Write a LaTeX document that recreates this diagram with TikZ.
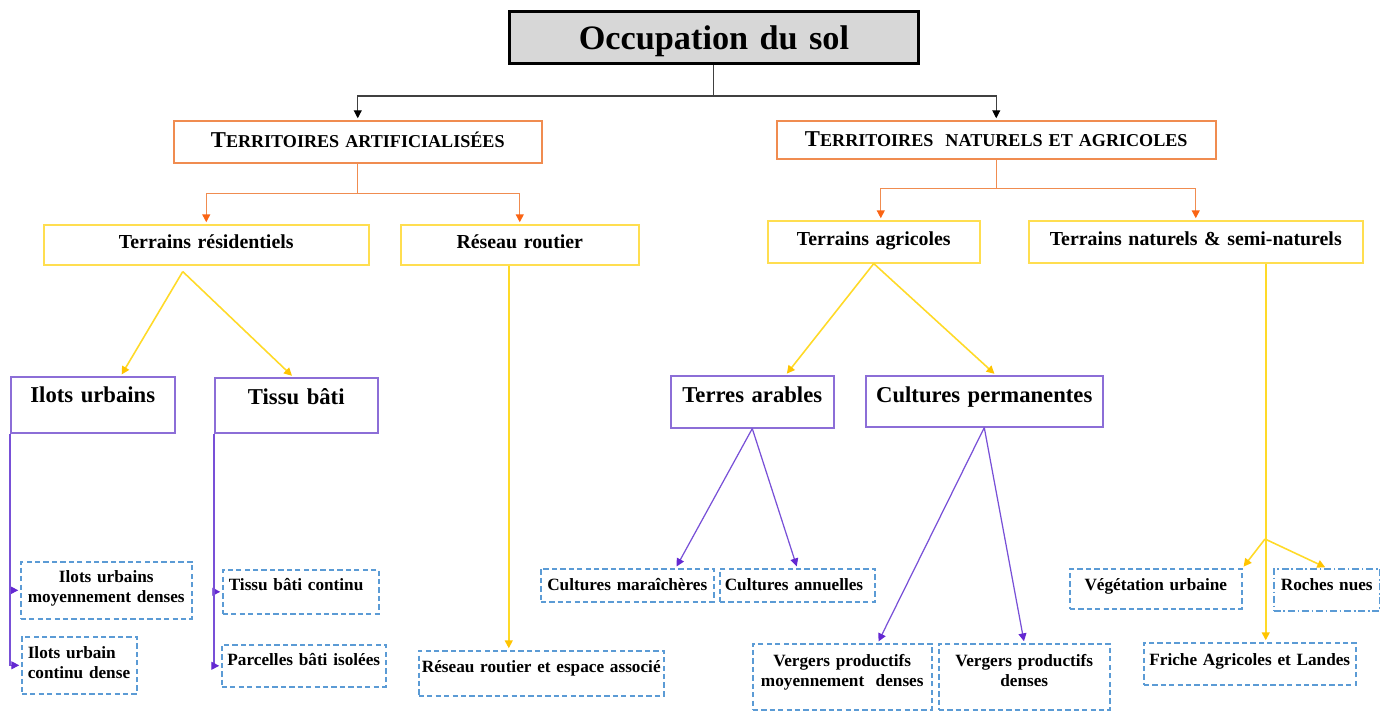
\documentclass[tikz,border=0pt]{standalone}
\usepackage{fontspec}
\setmainfont{Liberation Serif}
\usetikzlibrary{arrows.meta}

\definecolor{grisfond}{RGB}{215,215,215}
\definecolor{orangecadre}{RGB}{240,140,80}
\definecolor{orangepointe}{RGB}{250,100,20}
\definecolor{jaunecadre}{RGB}{255,222,80}
\definecolor{jaunetrait}{RGB}{255,218,40}
\definecolor{jaunepointe}{RGB}{255,196,0}
\definecolor{violetcadre}{RGB}{140,110,215}
\definecolor{violettrait}{RGB}{120,80,215}
\definecolor{violetpointe}{RGB}{100,40,210}
\definecolor{bleucadre}{RGB}{91,155,213}

\newcommand{\grand}[1]{{\fontsize{12.9}{15}\selectfont #1}}

\begin{document}
\begin{tikzpicture}[x=0.02cm, y=-0.02cm, shorten >=1pt,
	boite/.style={anchor=north west, inner sep=0pt, align=center},
	titre/.style={boite, draw=black, line width=1.7pt, fill=grisfond, font=\bfseries\fontsize{19.5}{22}\selectfont},
	domaine/.style={boite, draw=orangecadre, line width=0.9pt, font=\bfseries\fontsize{10.3}{12}\selectfont},
	terrain/.style={boite, draw=jaunecadre, line width=0.9pt, font=\bfseries\fontsize{11.3}{13}\selectfont},
	classe/.style={boite, draw=violetcadre, line width=0.9pt, font=\bfseries\fontsize{12.9}{15}\selectfont},
	feuille/.style={boite, draw=bleucadre, line width=0.9pt, dash pattern=on 3pt off 1.8pt, font=\bfseries\fontsize{9.8}{11.2}\selectfont},
	fleche noire/.style={draw=black!75, line width=0.6pt, -{Triangle[length=4.5pt,width=4.5pt,color=black]}},
	fleche orange/.style={draw=orangecadre, line width=0.8pt, -{Triangle[length=4.5pt,width=4.5pt,color=orangepointe]}},
	fleche jaune/.style={draw=jaunetrait, line width=0.9pt, -{Triangle[length=4.5pt,width=4.5pt,color=jaunepointe]}},
	fleche violette/.style={draw=violettrait, line width=0.7pt, -{Triangle[length=4.5pt,width=4.5pt,color=violetpointe]}}]
	\useasboundingbox (0,0) rectangle (1380,711);

	% niveaux 0 et 1
	\node (titre) at (508,10)	[titre, text width=8.18cm, text height=0.76cm, text depth=0.28cm]	{Occupation du sol};
	\node (TA) at (173,120)	[domaine, text width=7.36cm, text height=0.54cm, text depth=0.30cm]	{\grand{T}ERRITOIRES ARTIFICIALISÉES};
	\node (TNA) at (776,120)	[domaine, text width=8.78cm, text height=0.52cm, text depth=0.24cm]	{\grand{T}ERRITOIRES\ \ NATURELS ET AGRICOLES};

	% niveau 2
	\node (TR) at (43,224)	[terrain, text width=6.50cm, text height=0.48cm, text depth=0.32cm]	{Terrains résidentiels};
	\node (RR) at (400,224)	[terrain, text width=4.76cm, text height=0.48cm, text depth=0.32cm]	{Réseau routier};
	\node (TAg) at (767,220)	[terrain, text width=4.24cm, text height=0.50cm, text depth=0.34cm]	{Terrains agricoles};
	\node (TN) at (1028,220)	[terrain, text width=6.68cm, text height=0.50cm, text depth=0.34cm]	{Terrains naturels \& semi-naturels};

	% niveau 3
	\node (IU) at (10,376)	[classe, text width=3.28cm, text height=0.52cm, text depth=0.60cm]	{Ilots urbains};
	\node (TB) at (214,377)	[classe, text width=3.26cm, text height=0.54cm, text depth=0.56cm]	{Tissu bâti};
	\node (TAr) at (670,375)	[classe, text width=3.26cm, text height=0.54cm, text depth=0.50cm]	{Terres arables};
	\node (CP) at (865,375)	[classe, text width=4.74cm, text height=0.54cm, text depth=0.48cm]	{Cultures permanentes};

	% feuilles
	\node (IUm) at (20,561)	[feuille, text width=3.42cm, text height=0.42cm, text depth=0.72cm]	{Ilots urbains\\moyennement denses};
	\node (IUc) at (21,636)	[feuille, align=left, inner xsep=0.12cm, text width=2.06cm, text height=0.44cm, text depth=0.70cm]	{Ilots urbain\\continu dense};
	\node (TBc) at (222,569)	[feuille, align=left, inner xsep=0.12cm, text width=2.88cm, text height=0.42cm, text depth=0.46cm]	{Tissu bâti continu};
	\node (TBp) at (221,644)	[feuille, text width=3.28cm, text height=0.42cm, text depth=0.42cm]	{Parcelles bâti isolées};
	\node (RRe) at (418,650)	[feuille, text width=4.90cm, text height=0.44cm, text depth=0.46cm]	{Réseau routier et espace associé};
	\node (CM) at (540,568)	[feuille, text width=3.46cm, text height=0.44cm, text depth=0.22cm]	{Cultures maraîchères};
	\node (CA) at (719,568)	[feuille, align=left, inner xsep=0.10cm, text width=2.90cm, text height=0.44cm, text depth=0.22cm]	{Cultures annuelles};
	\node (VPm) at (752,643)	[feuille, text width=3.58cm, text height=0.46cm, text depth=0.86cm]	{Vergers productifs\\moyennement\ \ denses};
	\node (VPd) at (938,643)	[feuille, text width=3.42cm, text height=0.46cm, text depth=0.86cm]	{Vergers productifs\\denses};
	\node (VU) at (1069,568)	[feuille, text width=3.44cm, text height=0.44cm, text depth=0.36cm]	{Végétation urbaine};
	\node (RN) at (1273,568)	[feuille, dash pattern=on 4pt off 1.5pt on 1pt off 1.5pt, text width=2.12cm, text height=0.44cm, text depth=0.40cm]	{Roches nues};
	\node (FAL) at (1143,642)	[feuille, text width=4.24cm, text height=0.46cm, text depth=0.38cm]	{Friche Agricoles et Landes};

	% liaisons
	\coordinate (j0) at ([yshift=-0.62cm]titre.south);
	\coordinate (j1) at ([yshift=-0.60cm]TA.south);
	\coordinate (j2) at ([yshift=-0.58cm]TNA.south);
	\coordinate (aTR) at ([xshift=-0.47cm, yshift=-0.12cm]TR.south);
	\coordinate (jTN) at (1265,539);

	\draw[fleche noire] (titre.south) -- (j0) -| (TA.north);
	\draw[fleche noire] (titre.south) -- (j0) -| (TNA.north);

	\draw[fleche orange] (TA.south) -- (j1) -| (TR.north);
	\draw[fleche orange] (TA.south) -- (j1) -| (RR.north);
	\draw[fleche orange] (TNA.south) -- (j2) -| ([xshift=0.14cm]TAg.north);
	\draw[fleche orange] (TNA.south) -- (j2) -| (TN.north);

	\draw[fleche jaune] (aTR) -- ([xshift=0.56cm]IU.north);
	\draw[fleche jaune] (aTR) -- ([xshift=-0.06cm]TB.north);
	\draw[fleche jaune] ([xshift=-0.22cm]RR.south) -- ([xshift=-0.22cm]RR.south |- RRe.north);
	\draw[fleche jaune] (TAg.south) -- ([xshift=0.67cm]TAr.north);
	\draw[fleche jaune] (TAg.south) -- ([xshift=0.23cm]CP.north);
	\draw[fleche jaune] ([xshift=1.4cm]TN.south) -- ([xshift=1.4cm]TN.south |- FAL.north);
	\draw[fleche jaune] (jTN) -- (VU.north east);
	\draw[fleche jaune] (jTN) -- (RN.north);

	\draw[fleche violette] (IU.south west) |- (IUm.west);
	\draw[fleche violette] (IU.south west) |- (IUc.west);
	\draw[fleche violette] (TB.south west) |- (TBc.west);
	\draw[fleche violette] (TB.south west) |- (TBp.west);
	\draw[fleche violette] (TAr.south) -- ([xshift=0.97cm]CM.north);
	\draw[fleche violette] (TAr.south) -- (CA.north);
	\draw[fleche violette] (CP.south) -- ([xshift=0.71cm]VPm.north);
	\draw[fleche violette] (CP.south) -- (VPd.north);
\end{tikzpicture}
\end{document}
